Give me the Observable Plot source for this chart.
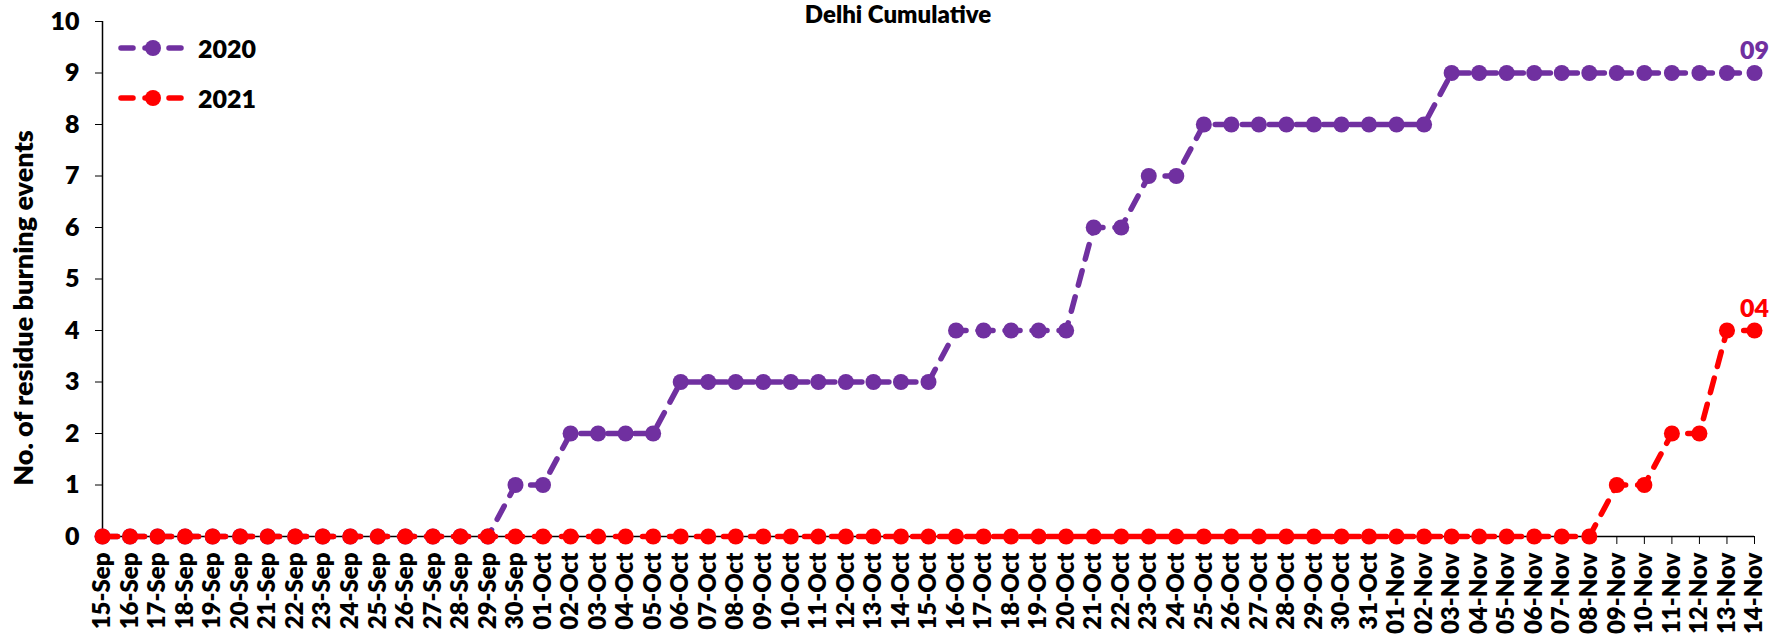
<!DOCTYPE html>
<html>
<head>
<meta charset="utf-8">
<script src="https://cdn.jsdelivr.net/npm/d3@7"></script>
<script src="https://cdn.jsdelivr.net/npm/@observablehq/plot@0.6"></script>
<style>
  html, body { margin: 0; padding: 0; background: #fff; overflow: hidden; }
  #wrap { position: relative; width: 1771px; height: 643px; font-family: Lato, "Open Sans", sans-serif; }
  #title { position: absolute; left: 0; width: 1796px; top: 1px; text-align: center; font-weight: 800; font-size: 24px; color: #000; line-height: 26px; }
  #legend { position: absolute; left: 118px; top: 23px; font-weight: 800; font-size: 25px; color: #000; }
  #legend .item { display: flex; align-items: center; height: 50px; }
  #legend svg { margin-right: 12px; }
  #ylabel { position: absolute; left: 23px; top: 308px; transform: translate(-50%, -50%) rotate(-90deg); white-space: nowrap; font-weight: 800; font-size: 27px; color: #000; line-height: 30px; }
</style>
</head>
<body>
<div id="wrap">
  <div id="chart"></div>
  <div id="title"></div>
  <div id="legend"></div>
  <div id="ylabel"></div>
</div>
<script>
const titleText = "Delhi Cumulative";
const yLabel = "No. of residue burning events";
const dates = ["15-Sep","16-Sep","17-Sep","18-Sep","19-Sep","20-Sep","21-Sep","22-Sep","23-Sep","24-Sep","25-Sep","26-Sep","27-Sep","28-Sep","29-Sep","30-Sep",
  "01-Oct","02-Oct","03-Oct","04-Oct","05-Oct","06-Oct","07-Oct","08-Oct","09-Oct","10-Oct","11-Oct","12-Oct","13-Oct","14-Oct","15-Oct","16-Oct","17-Oct","18-Oct","19-Oct","20-Oct","21-Oct","22-Oct","23-Oct","24-Oct","25-Oct","26-Oct","27-Oct","28-Oct","29-Oct","30-Oct","31-Oct",
  "01-Nov","02-Nov","03-Nov","04-Nov","05-Nov","06-Nov","07-Nov","08-Nov","09-Nov","10-Nov","11-Nov","12-Nov","13-Nov","14-Nov"];
const values2020 = [0,0,0,0,0,0,0,0,0,0,0,0,0,0,0,1,
  1,2,2,2,2,3,3,3,3,3,3,3,3,3,3,4,4,4,4,4,6,6,7,7,8,8,8,8,8,8,8,
  8,8,9,9,9,9,9,9,9,9,9,9,9,9];
const values2021 = [0,0,0,0,0,0,0,0,0,0,0,0,0,0,0,0,
  0,0,0,0,0,0,0,0,0,0,0,0,0,0,0,0,0,0,0,0,0,0,0,0,0,0,0,0,0,0,0,
  0,0,0,0,0,0,0,0,1,1,2,2,4,4];
const seriesNames = ["2020", "2021"];
const seriesColors = ["#7030A0", "#FF0000"];
const endLabels = ["09", "04"];
const yTicks = [0,1,2,3,4,5,6,7,8,9,10];

const series = [values2020, values2021].map((vals, i) =>
  dates.map((d, j) => ({date: d, value: vals[j], series: seriesNames[i]})));
const ends = series.map((s, i) => ({...s[s.length - 1], label: endLabels[i], color: seriesColors[i]}));

const dash = "15,12";
const marks = [
  Plot.ruleY([0], {stroke: "#000", strokeWidth: 1.5}),
  Plot.axisY({ticks: yTicks, tickSize: 7, tickPadding: 16, fontSize: 25, label: null}),
  Plot.axisX({tickSize: 8, tickRotate: -90, tickPadding: 8, fontSize: 24, label: null}),
  Plot.ruleX([dates[0]], {y1: 0, y2: 10, stroke: "#000", strokeWidth: 1.5})
];
series.forEach((s, i) => {
  marks.push(Plot.line(s, {x: "date", y: "value", stroke: seriesColors[i], strokeWidth: 5.5, strokeDasharray: dash, strokeLinecap: "round"}));
  marks.push(Plot.dot(s, {x: "date", y: "value", fill: seriesColors[i], r: 8}));
});
marks.push(Plot.text(ends, {x: "date", y: "value", text: "label", fill: "color", dy: -22, fontSize: 25, fontWeight: 800}));

const chart = Plot.plot({
  width: 1771,
  height: 643,
  marginTop: 21,
  marginBottom: 107,
  marginLeft: 102,
  marginRight: 17,
  style: {fontFamily: "Lato, 'Open Sans', sans-serif", fontWeight: 800, fontSize: "24px", color: "#000", background: "#fff", overflow: "visible"},
  x: {type: "point", domain: dates, padding: 0},
  y: {domain: [0, 10]},
  marks
});
document.getElementById("chart").appendChild(chart);
document.getElementById("title").textContent = titleText;
document.getElementById("ylabel").textContent = yLabel;

const legend = document.getElementById("legend");
seriesNames.forEach((name, i) => {
  const item = document.createElement("div");
  item.className = "item";
  item.innerHTML = `<svg width="68" height="22"><line x1="3" y1="11" x2="65" y2="11" stroke="${seriesColors[i]}" stroke-width="5.5" stroke-dasharray="12,12" stroke-linecap="round"/><circle cx="35" cy="11" r="8" fill="${seriesColors[i]}"/></svg><span>${name}</span>`;
  legend.appendChild(item);
});
</script>
</body>
</html>
